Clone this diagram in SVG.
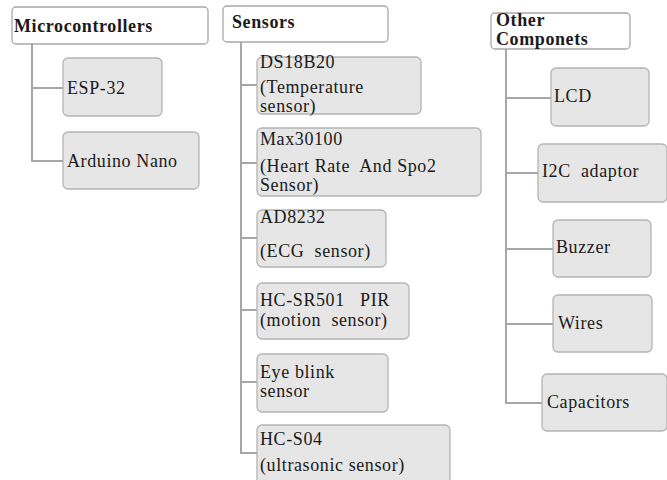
<svg xmlns="http://www.w3.org/2000/svg" width="667" height="480" viewBox="0 0 667 480">
<style>
.hdr{fill:#ffffff;stroke:#a8a8a8;stroke-width:1.3}
.box{fill:#e6e6e6;stroke:#b4b4b4;stroke-width:1.3}
.t{font-family:"Liberation Serif","DejaVu Serif","Noto Serif",serif;font-size:18px;fill:#1a1a1a;letter-spacing:0.6px}
text{white-space:pre}
.b{font-weight:bold}
.con{fill:none;stroke:#a6a6a6;stroke-width:2}
</style>
<rect width="667" height="480" fill="#ffffff"/>
<g id="connectors">
<path class="con" d="M32,44 V161 H63 M32,88 H63"/>
<path class="con" d="M241,42 V453 H257 M241,85 H257 M241,163 H257 M241,238 H257 M241,310 H257 M241,382 H257"/>
<path class="con" d="M506,49 V403 H542 M506,98 H551 M506,173 H538 M506,249 H553 M506,324 H553"/>
</g>
<g class="t" font-family="Liberation Serif, DejaVu Serif, serif">
<g id="microcontrollers"><rect class="hdr" x="12" y="7" width="196" height="37" rx="4"/><text class="b" x="14" y="32">Microcontrollers</text></g>
<g id="esp32"><rect class="box" x="63" y="58" width="99" height="58" rx="5"/><text x="67" y="94">ESP-32</text></g>
<g id="arduino"><rect class="box" x="63" y="132" width="136" height="57" rx="5"/><text x="67" y="167">Arduino Nano</text></g>
<g id="sensors"><rect class="hdr" x="223" y="6" width="165" height="36" rx="4"/><text class="b" x="232" y="28">Sensors</text></g>
<g id="ds18b20"><rect class="box" x="257" y="57" width="164" height="57" rx="5"/><text x="260" y="68">DS18B20</text><text x="260" y="93">(Temperature</text><text x="260" y="112">sensor)</text></g>
<g id="max30100"><rect class="box" x="257" y="128" width="224" height="68" rx="5"/><text x="260" y="145">Max30100</text><text x="260" y="172" xml:space="preserve">(Heart Rate  And Spo2</text><text x="260" y="191">Sensor)</text></g>
<g id="ad8232"><rect class="box" x="257" y="210" width="129" height="57" rx="5"/><text x="260" y="223">AD8232</text><text x="260" y="257" xml:space="preserve">(ECG  sensor)</text></g>
<g id="hcsr501"><rect class="box" x="257" y="283" width="152" height="56" rx="5"/><text x="260" y="306" xml:space="preserve">HC-SR501   PIR</text><text x="260" y="326" xml:space="preserve">(motion  sensor)</text></g>
<g id="eyeblink"><rect class="box" x="257" y="354" width="131" height="58" rx="5"/><text x="260" y="378">Eye blink</text><text x="260" y="397">sensor</text></g>
<g id="hcs04"><rect class="box" x="257" y="425" width="193" height="62" rx="5"/><text x="260" y="445">HC-S04</text><text x="260" y="471">(ultrasonic sensor)</text></g>
<g id="other"><rect class="hdr" x="491" y="13" width="139" height="36" rx="4"/><text class="b" x="496" y="26">Other</text><text class="b" x="496" y="45">Componets</text></g>
<g id="lcd"><rect class="box" x="551" y="68" width="98" height="58" rx="5"/><text x="554" y="102">LCD</text></g>
<g id="i2c"><rect class="box" x="538" y="144" width="129" height="58" rx="5"/><text x="542" y="177" xml:space="preserve">I2C  adaptor</text></g>
<g id="buzzer"><rect class="box" x="553" y="220" width="98" height="57" rx="5"/><text x="556" y="253">Buzzer</text></g>
<g id="wires"><rect class="box" x="553" y="295" width="99" height="57" rx="5"/><text x="558" y="329">Wires</text></g>
<g id="capacitors"><rect class="box" x="542" y="374" width="125" height="57" rx="5"/><text x="547" y="408">Capacitors</text></g>
</g>
</svg>
